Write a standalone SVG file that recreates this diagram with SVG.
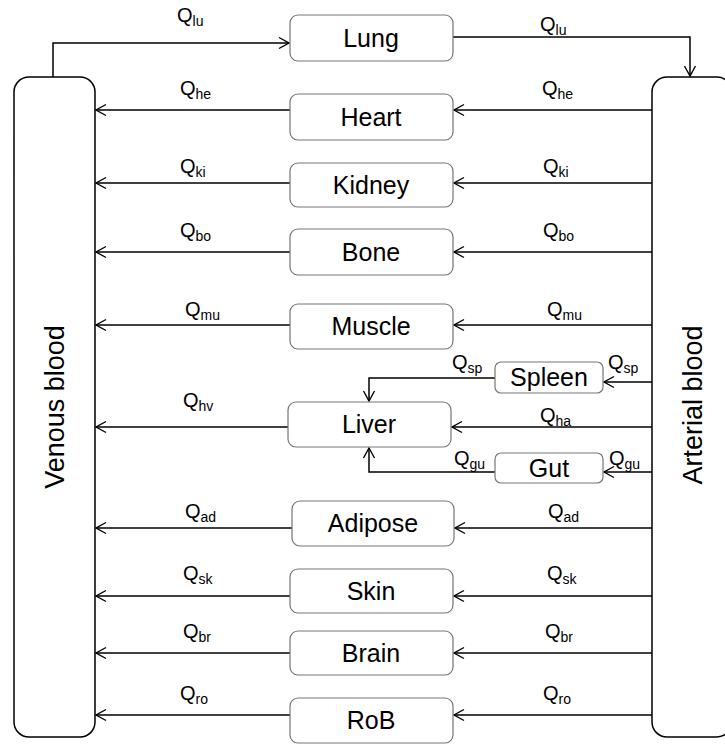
<svg xmlns="http://www.w3.org/2000/svg" width="725" height="745" viewBox="0 0 725 745">
<defs>
<marker id="arr" markerUnits="userSpaceOnUse" markerWidth="14" markerHeight="14" viewBox="-12 -7 14 14" refX="0" refY="0" orient="auto">
<path d="M-10,-5.5 L0,0 L-10,5.5" fill="none" stroke="#000" stroke-width="1.4"/>
</marker>
</defs>
<style>
.blood{fill:#fff;stroke:#000;stroke-width:1.5}
.node{fill:#fff;stroke:#767676;stroke-width:1.2}
.lbl{font-family:"Liberation Sans",Arial,sans-serif;font-size:25px;fill:#000;text-anchor:middle}
.big{font-size:27px}
.q{font-family:"Liberation Sans",Arial,sans-serif;font-size:20px;fill:#000}
.s{font-size:14px}
.c{fill:none;stroke:#000;stroke-width:1.5;marker-end:url(#arr)}
</style>
<rect width="725" height="745" fill="#fff"/>
<g id="venous"><rect class="blood" x="14" y="77" width="81" height="660" rx="15"/><text class="lbl big" transform="translate(64,407) rotate(-90)">Venous blood</text></g>
<g id="arterial"><rect class="blood" x="652" y="77" width="80" height="660" rx="15"/><text class="lbl big" transform="translate(702,405) rotate(-90)">Arterial blood</text></g>
<g id="connectors">
<path class="c" d="M53,77 V43 H289"/>
<path class="c" d="M453,37 H690 V76"/>
<path class="c" d="M290,110 H96"/><path class="c" d="M652,110 H454"/>
<path class="c" d="M290,183 H96"/><path class="c" d="M652,183 H454"/>
<path class="c" d="M290,252 H96"/><path class="c" d="M652,252 H454"/>
<path class="c" d="M290,325 H96"/><path class="c" d="M652,325 H454"/>
<path class="c" d="M652,382 H604"/><path class="c" d="M495,378 H369 V401"/>
<path class="c" d="M288,427 H96"/><path class="c" d="M652,427 H452"/>
<path class="c" d="M652,472 H604"/><path class="c" d="M495,472 H369 V448"/>
<path class="c" d="M292,528 H96"/><path class="c" d="M652,528 H455"/>
<path class="c" d="M290,596 H96"/><path class="c" d="M652,596 H454"/>
<path class="c" d="M290,653 H96"/><path class="c" d="M652,653 H454"/>
<path class="c" d="M290,715 H96"/><path class="c" d="M652,715 H454"/>
</g>
<g id="lung"><rect class="node" x="290" y="15" width="163" height="46" rx="8"/><text class="lbl" x="371" y="47">Lung</text></g>
<g id="heart"><rect class="node" x="290" y="94" width="163" height="46" rx="8"/><text class="lbl" x="371" y="126">Heart</text></g>
<g id="kidney"><rect class="node" x="290" y="163" width="163" height="44" rx="8"/><text class="lbl" x="371" y="194">Kidney</text></g>
<g id="bone"><rect class="node" x="290" y="229" width="163" height="46" rx="8"/><text class="lbl" x="371" y="261">Bone</text></g>
<g id="muscle"><rect class="node" x="290" y="304" width="163" height="45" rx="8"/><text class="lbl" x="371" y="335">Muscle</text></g>
<g id="spleen"><rect class="node" x="495" y="362" width="108" height="31" rx="6"/><text class="lbl" x="549" y="386">Spleen</text></g>
<g id="liver"><rect class="node" x="288" y="402" width="163" height="45" rx="8"/><text class="lbl" x="369" y="433">Liver</text></g>
<g id="gut"><rect class="node" x="495" y="453" width="108" height="30" rx="6"/><text class="lbl" x="549" y="477">Gut</text></g>
<g id="adipose"><rect class="node" x="292" y="501" width="162" height="45" rx="8"/><text class="lbl" x="373" y="532">Adipose</text></g>
<g id="skin"><rect class="node" x="290" y="569" width="163" height="44" rx="8"/><text class="lbl" x="371" y="600">Skin</text></g>
<g id="brain"><rect class="node" x="290" y="631" width="163" height="44" rx="8"/><text class="lbl" x="371" y="662">Brain</text></g>
<g id="rob"><rect class="node" x="290" y="698" width="163" height="45" rx="8"/><text class="lbl" x="371" y="729">RoB</text></g>
<g id="labels">
<text class="q" x="177" y="22">Q<tspan class="s" dy="4">lu</tspan></text>
<text class="q" x="540" y="31">Q<tspan class="s" dy="4">lu</tspan></text>
<text class="q" x="180" y="95">Q<tspan class="s" dy="4">he</tspan></text>
<text class="q" x="542" y="95">Q<tspan class="s" dy="4">he</tspan></text>
<text class="q" x="180" y="173">Q<tspan class="s" dy="4">ki</tspan></text>
<text class="q" x="543" y="173">Q<tspan class="s" dy="4">ki</tspan></text>
<text class="q" x="180" y="237">Q<tspan class="s" dy="4">bo</tspan></text>
<text class="q" x="543" y="237">Q<tspan class="s" dy="4">bo</tspan></text>
<text class="q" x="185" y="316">Q<tspan class="s" dy="4">mu</tspan></text>
<text class="q" x="547" y="316">Q<tspan class="s" dy="4">mu</tspan></text>
<text class="q" x="452" y="369">Q<tspan class="s" dy="4">sp</tspan></text>
<text class="q" x="608" y="369">Q<tspan class="s" dy="4">sp</tspan></text>
<text class="q" x="183" y="407">Q<tspan class="s" dy="4">hv</tspan></text>
<text class="q" x="540" y="422">Q<tspan class="s" dy="4">ha</tspan></text>
<text class="q" x="454" y="465">Q<tspan class="s" dy="4">gu</tspan></text>
<text class="q" x="609" y="465">Q<tspan class="s" dy="4">gu</tspan></text>
<text class="q" x="185" y="518">Q<tspan class="s" dy="4">ad</tspan></text>
<text class="q" x="548" y="518">Q<tspan class="s" dy="4">ad</tspan></text>
<text class="q" x="183" y="580">Q<tspan class="s" dy="4">sk</tspan></text>
<text class="q" x="547" y="580">Q<tspan class="s" dy="4">sk</tspan></text>
<text class="q" x="183" y="638">Q<tspan class="s" dy="4">br</tspan></text>
<text class="q" x="545" y="638">Q<tspan class="s" dy="4">br</tspan></text>
<text class="q" x="180" y="700">Q<tspan class="s" dy="4">ro</tspan></text>
<text class="q" x="543" y="700">Q<tspan class="s" dy="4">ro</tspan></text>
</g>
</svg>
